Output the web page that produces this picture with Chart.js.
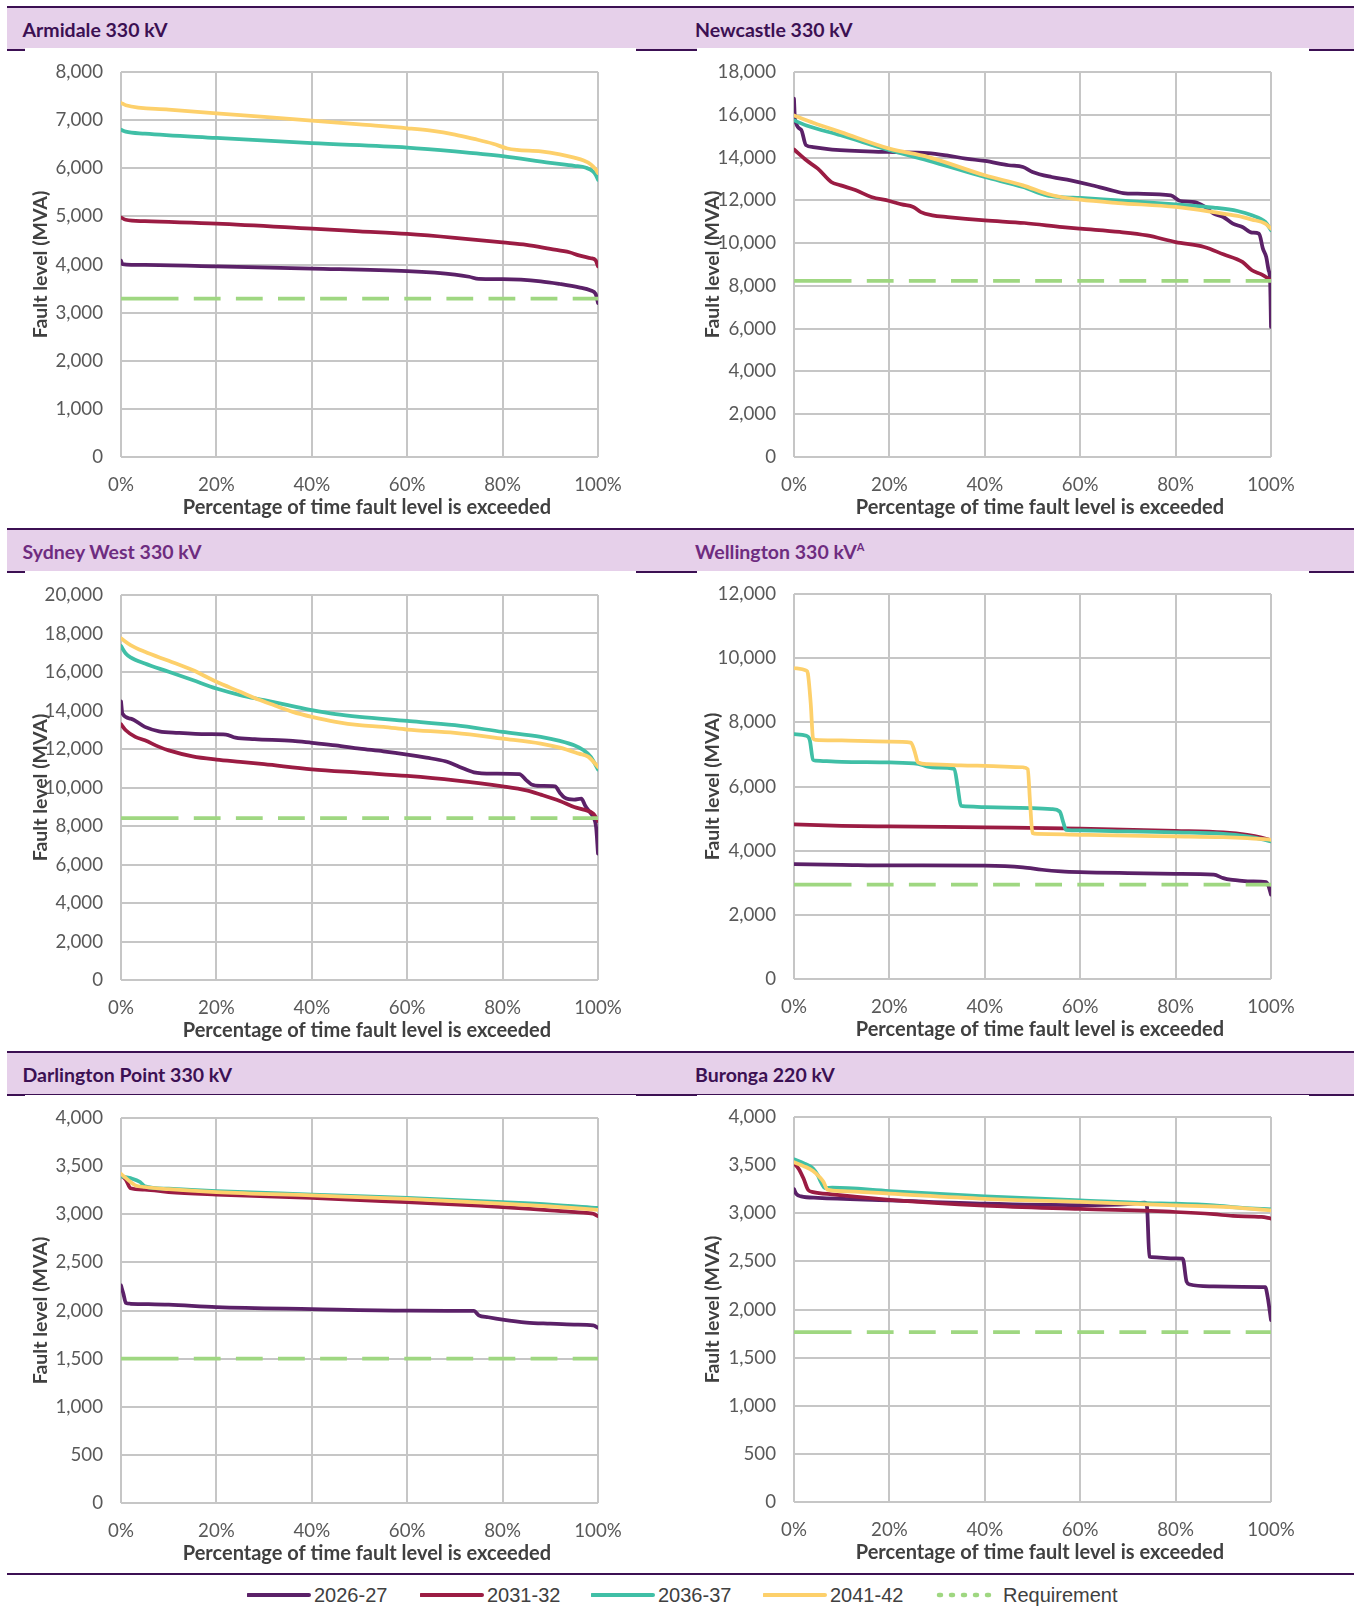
<!DOCTYPE html>
<html lang="en">
<head>
<meta charset="utf-8">
<title>Fault level duration curves</title>
<script src="https://cdn.jsdelivr.net/npm/chart.js@4.4.1/dist/chart.umd.min.js"></script>
<style>
  html, body { margin: 0; padding: 0; background: #fff; }
  body { position: relative; width: 1359px; height: 1608px; overflow: hidden; font-family: 'Lato', sans-serif; }
  .bar { position: absolute; left: 7px; width: 1347px; height: 41px; background: #e6d0ea;
         border-top: 2px solid #3c1053; border-bottom: 2px solid #3c1053; }
  .bar span { position: absolute; top: 1px; line-height: 41px; font-weight: 700; font-size: 19.5px;
              color: #3c1053; white-space: nowrap; }
  .bar.mid span { color: #6e2c80; }
  .bar sup { font-size: 11px; vertical-align: baseline; position: relative; top: -8px; }
  .panel { position: absolute; background: #fff; }
  .panel canvas { display: block; }
  .rule { position: absolute; left: 7px; width: 1347px; top: 1573px; height: 2px; background: #3c1053; z-index: 3; }
  .legend { position: absolute; top: 1582px; left: 0; width: 1359px; height: 26px;
            font-family: 'Liberation Sans', Arial, sans-serif; font-size: 20px; color: #404040; }
  .legend svg { position: absolute; top: 0; }
  .legend span { position: absolute; top: 0; line-height: 26px; white-space: nowrap; }
</style>
</head>
<body>

<div class="bar" style="top:6px"><span style="left:15.5px">Armidale 330 kV</span><span style="left:688px">Newcastle 330 kV</span></div>
<div class="bar mid" style="top:528px"><span style="left:15.5px">Sydney West 330 kV</span><span style="left:688px">Wellington 330 kV<sup>A</sup></span></div>
<div class="bar" style="top:1051px"><span style="left:15.5px">Darlington Point 330 kV</span><span style="left:688px">Buronga 220 kV</span></div>

<div class="panel" style="left:25px;top:48px"><canvas id="chart0"></canvas></div>
<div class="panel" style="left:697px;top:48px"><canvas id="chart1"></canvas></div>
<div class="panel" style="left:25px;top:571px"><canvas id="chart2"></canvas></div>
<div class="panel" style="left:697px;top:571px"><canvas id="chart3"></canvas></div>
<div class="panel" style="left:25px;top:1095px"><canvas id="chart4"></canvas></div>
<div class="panel" style="left:697px;top:1095px"><canvas id="chart5"></canvas></div>

<div class="rule"></div>
<div class="legend" id="legend"></div>

<script>
// ---- Series labels and per-station axis settings ----
const seriesNames = ['2026-27', '2031-32', '2036-37', '2041-42'];
const requirementName = 'Requirement';
const xTickValues = [0, 20, 40, 60, 80, 100];          // % of time exceeded
const yMax  = [8000, 18000, 20000, 12000, 4000, 4000];  // MVA
const yStep = [1000, 2000, 2000, 2000, 500, 500];
const requirement = [3290, 8230, 8410, 2940, 1500, 1765];

// ---- Fault level duration curves: [% of time exceeded, MVA] ----
// Armidale 330 kV
const armidale2026 = [[0,4080],[0.3,4010],[5,3990],[20,3960],[40,3915],[60,3860],[70,3790],[73,3745],[75,3700],[80,3695],[88,3650],[92,3595],[96,3525],[98.5,3460],[99.5,3390],[100,3200]];
const armidale2031 = [[0,4980],[1,4930],[5,4900],[20,4850],[40,4745],[50,4690],[60,4635],[70,4555],[80,4460],[85,4410],[90,4325],[94,4255],[96,4190],[98.5,4130],[99.5,4090],[100,3960]];
const armidale2036 = [[0,6800],[1,6760],[5,6720],[20,6630],[40,6520],[60,6430],[70,6350],[80,6250],[90,6110],[95,6050],[97.5,6010],[99,5930],[99.6,5850],[100,5760]];
const armidale2041 = [[0,7360],[1,7310],[10,7220],[20,7140],[30,7070],[40,6990],[50,6910],[60,6830],[65,6780],[70,6700],[74,6610],[78,6510],[81,6410],[83,6380],[88,6350],[92,6290],[95,6220],[97,6160],[98.5,6080],[99.5,5980],[100,5900]];

// Newcastle 330 kV
const newcastle2026 = [[0,16750],[0.2,15800],[1.5,15300],[2.5,14580],[4,14490],[8,14370],[20,14260],[28,14210],[32,14100],[36,13950],[40,13840],[45,13640],[48,13560],[50,13330],[54,13090],[58,12930],[62,12730],[66,12500],[69,12340],[72,12310],[79,12230],[81,11970],[84,11920],[86,11720],[88,11380],[90,11220],[92,10910],[94,10750],[96,10490],[97.5,10440],[98.3,9740],[99,9350],[99.5,8730],[99.8,8300],[100,6080]];
const newcastle2031 = [[0,14380],[2.6,13870],[5,13480],[7.8,12860],[9.8,12700],[13,12470],[16.2,12160],[20,11970],[22.6,11810],[25,11690],[26.6,11450],[29,11300],[32.2,11220],[40,11065],[48.3,10940],[56.3,10750],[60,10675],[68.3,10520],[74,10360],[80,10050],[86,9820],[90,9475],[94,9120],[96,8730],[98,8540],[100,8260]];
const newcastle2036 = [[0,15740],[2.6,15500],[9.8,15040],[20,14340],[28,13870],[40,13090],[48,12620],[53,12230],[56,12155],[60,12110],[68,12000],[80,11810],[88,11660],[93,11500],[96,11300],[98.8,10990],[100,10600]];
const newcastle2041 = [[0,15970],[2.6,15740],[5,15550],[9.8,15190],[20,14415],[28,14030],[40,13170],[48,12700],[53,12310],[56,12155],[60,12030],[68,11875],[80,11690],[88,11450],[93,11270],[96,11100],[98.8,10910],[100,10675]];

// Sydney West 330 kV
const sydneyWest2026 = [[0,14480],[0.3,13840],[2,13580],[5,13150],[8,12920],[12,12840],[18,12770],[22,12750],[24,12590],[28,12510],[36,12420],[40,12320],[45,12190],[50,12020],[55,11880],[60,11710],[64,11550],[68,11360],[71,11070],[74,10790],[78,10720],[83.5,10690],[85,10370],[86,10165],[88,10080],[91,10060],[92,9730],[93,9470],[95,9370],[96.5,9420],[97.3,9070],[98,8810],[99,8465],[99.6,7940],[100,6560]];
const sydneyWest2031 = [[0,13290],[1,12975],[3,12630],[5,12450],[8,12110],[10,11930],[15,11620],[20,11450],[25,11330],[30,11210],[40,10945],[50,10770],[60,10600],[70,10370],[80,10060],[85,9850],[88,9630],[92,9300],[95,8985],[97,8850],[99,8640],[100,8260]];
const sydneyWest2036 = [[0,17350],[1,16960],[2,16760],[5,16440],[10,16010],[15,15580],[20,15140],[25,14800],[30,14540],[35,14280],[40,14020],[45,13810],[50,13670],[60,13460],[70,13235],[80,12890],[88,12630],[92,12420],[95,12190],[97,11930],[98.5,11590],[100,10930]];
const sydneyWest2041 = [[0,17750],[2,17400],[5,17050],[10,16580],[15,16100],[20,15490],[25,14970],[28,14650],[32,14280],[36,13930],[40,13670],[45,13410],[50,13235],[55,13150],[60,13010],[70,12840],[80,12540],[88,12280],[92,12070],[96,11760],[98,11590],[100,11070]];

// Wellington 330 kV
const wellington2026 = [[0,3580],[10,3560],[20,3540],[40,3530],[48,3480],[52,3405],[56,3355],[60,3330],[70,3300],[80,3280],[88,3250],[90,3145],[91.5,3095],[93,3075],[96,3040],[99,3020],[99.5,2890],[100,2630]];
const wellington2031 = [[0,4820],[10,4775],[20,4755],[40,4725],[60,4690],[80,4620],[90,4570],[95,4495],[98,4410],[100,4320]];
const wellington2036 = [[0,7630],[2.6,7580],[3.3,7450],[4,6830],[4.5,6810],[10,6770],[20,6750],[26,6705],[28,6620],[30,6590],[33.6,6550],[34.3,6000],[35,5400],[36,5380],[40,5360],[50,5325],[54,5295],[55.7,5220],[56.5,4860],[57,4650],[60,4630],[70,4600],[80,4570],[90,4525],[95,4445],[98,4360],[100,4290]];
const wellington2041 = [[0,9690],[2.6,9610],[2.9,9530],[3.5,8600],[4,7500],[4.5,7455],[10,7435],[20,7400],[24.5,7370],[25.3,7090],[26,6750],[28,6695],[35,6655],[40,6645],[48,6600],[49,6540],[49.5,5480],[50,4550],[51,4525],[60,4495],[70,4465],[80,4445],[90,4420],[95,4390],[100,4340]];

// Darlington Point 330 kV
const darlington2026 = [[0,2260],[0.5,2175],[1,2080],[2,2070],[10,2060],[20,2035],[40,2015],[60,2000],[74,1995],[75,1950],[77,1930],[80,1905],[85,1875],[90,1863],[95,1853],[99,1845],[100,1820]];
const darlington2031 = [[0,3405],[1,3360],[2,3270],[5,3255],[10,3230],[20,3205],[40,3170],[60,3125],[75,3090],[80,3075],[90,3040],[96,3020],[99,3005],[100,2980]];
const darlington2036 = [[0,3395],[2,3375],[4,3335],[5,3290],[10,3265],[20,3240],[40,3205],[60,3170],[80,3125],[90,3100],[100,3065]];
const darlington2041 = [[0,3420],[2,3335],[3,3300],[5,3283],[10,3260],[20,3230],[40,3195],[60,3160],[80,3110],[90,3082],[100,3045]];

// Buronga 220 kV
const buronga2026 = [[0,3250],[0.5,3200],[1.5,3175],[5,3160],[20,3135],[40,3100],[60,3085],[70,3095],[73.5,3110],[74,3070],[74.5,2550],[75,2545],[80,2530],[81.5,2528],[82.3,2290],[83,2260],[88,2240],[94,2235],[98.8,2232],[99.3,2130],[100,1890]];
const buronga2031 = [[0,3520],[1,3460],[2,3360],[3,3240],[4,3220],[8,3195],[20,3140],[40,3080],[60,3045],[80,3013],[88,2990],[92,2972],[98,2962],[100,2945]];
const buronga2036 = [[0,3560],[2,3520],[4,3465],[5,3395],[5.5,3340],[6.5,3262],[8,3265],[20,3230],[40,3175],[60,3135],[74,3106],[80,3100],[88,3082],[94,3055],[100,3040]];
const buronga2041 = [[0,3530],[2,3490],[4,3440],[5.5,3370],[6.2,3325],[7,3245],[10,3230],[20,3203],[40,3150],[60,3117],[80,3082],[90,3065],[100,3030]];

const stationSeries = [
  [armidale2026, armidale2031, armidale2036, armidale2041],
  [newcastle2026, newcastle2031, newcastle2036, newcastle2041],
  [sydneyWest2026, sydneyWest2031, sydneyWest2036, sydneyWest2041],
  [wellington2026, wellington2031, wellington2036, wellington2041],
  [darlington2026, darlington2031, darlington2036, darlington2041],
  [buronga2026, buronga2031, buronga2036, buronga2041]
];

// ---- Styling ----
const seriesColors = ['#5b2168', '#9b1c43', '#40bfa6', '#fdd06b'];
const requirementColor = '#9fd781';
const gridColor = '#c6c6c6';
const tickColor = '#595959';
const titleColor = '#404040';
const tickFont = { family: 'Lato', size: 18.7 };
const yTitleFont = { family: 'Lato', size: 19.5, weight: 'bold' };
const xTitleFont = { family: 'Lato', size: 20, weight: 'bold' };
// the leading en space nudges the centred title slightly to the right
const xTitle = '\u2002 Percentage of time fault level is exceeded';
const yTitle = 'Fault level (MVA)';
// long leading dash, then regular dashes
const requirementDash = [57.5, 15.3].concat(...Array(14).fill([26.8, 15.3]));

// canvas size and plot-area placement inside each panel
const PLOT_H = 385;
const panelLayout = [
  { w: 611, h: 480, plotL: 96, plotR: 573, plotT: 24 },
  { w: 612, h: 480, plotL: 97, plotR: 574, plotT: 24 },
  { w: 611, h: 480, plotL: 96, plotR: 573, plotT: 24 },
  { w: 612, h: 480, plotL: 97, plotR: 574, plotT: 23 },
  { w: 611, h: 478, plotL: 96, plotR: 573, plotT: 23 },
  { w: 612, h: 478, plotL: 97, plotR: 574, plotT: 22 }
];

function clearScalePadding(scale) {
  scale.paddingLeft = 0;
  scale.paddingRight = 0;
  scale.paddingTop = 0;
  scale.paddingBottom = 0;
}

function buildChart(i) {
  const p = panelLayout[i];
  const canvas = document.getElementById('chart' + i);
  canvas.width = p.w;
  canvas.height = p.h;
  canvas.style.width = p.w + 'px';
  canvas.style.height = p.h + 'px';
  const plotB = p.plotT + PLOT_H;
  const xTitleLine = xTitleFont.size * 1.2;
  const xTitlePad = Math.max(0, p.h - plotB - 51 - xTitleLine / 2);

  const datasets = seriesNames.map((name, k) => ({
    label: name,
    data: stationSeries[i][k].map(([x, y]) => ({ x, y })),
    borderColor: seriesColors[k],
    backgroundColor: seriesColors[k],
    borderWidth: 3.75,
    borderJoinStyle: 'round',
    borderCapStyle: 'round',
    pointRadius: 0,
    fill: false,
    cubicInterpolationMode: 'monotone',
    order: 4 - k
  }));
  datasets.push({
    label: requirementName,
    data: [{ x: 0, y: requirement[i] }, { x: 100, y: requirement[i] }],
    borderColor: requirementColor,
    borderWidth: 3.75,
    borderDash: requirementDash,
    pointRadius: 0,
    fill: false,
    order: 0
  });

  return new Chart(canvas, {
    type: 'line',
    data: { datasets },
    options: {
      responsive: false,
      maintainAspectRatio: false,
      animation: false,
      devicePixelRatio: 1,
      events: [],
      layout: { autoPadding: false, padding: { left: 0, top: p.plotT, right: p.w - p.plotR, bottom: 0 } },
      plugins: { legend: { display: false }, tooltip: { enabled: false } },
      scales: {
        x: {
          type: 'linear', min: 0, max: 100,
          afterBuildTicks(scale) { scale.ticks = xTickValues.map(v => ({ value: v })); },
          ticks: { autoSkip: false, maxRotation: 0, padding: 16.5, color: tickColor, font: tickFont,
                   callback: v => v + '%' },
          grid: { color: gridColor, lineWidth: 2, drawTicks: false },
          border: { display: false },
          title: { display: true, text: xTitle, color: titleColor, font: xTitleFont,
                   padding: { top: 0, bottom: xTitlePad } },
          afterFit(scale) { scale.height = p.h - plotB; clearScalePadding(scale); }
        },
        y: {
          type: 'linear', min: 0, max: yMax[i],
          ticks: { stepSize: yStep[i], padding: 18, color: tickColor, font: tickFont,
                   callback: v => Number(v).toLocaleString('en-US') },
          grid: { color: gridColor, lineWidth: 2, drawTicks: false },
          border: { display: false },
          title: { display: true, text: yTitle, color: titleColor, font: yTitleFont,
                   padding: { top: 4.5, bottom: 0 } },
          afterFit(scale) { scale.width = p.plotL; clearScalePadding(scale); }
        }
      }
    }
  });
}

// ---- Shared legend ----
function buildLegend() {
  const legend = document.getElementById('legend');
  const starts = [247, 420, 591, 763, 936];
  const names = seriesNames.concat([requirementName]);
  const colors = seriesColors.concat([requirementColor]);
  names.forEach((name, k) => {
    const svgNS = 'http://www.w3.org/2000/svg';
    const svg = document.createElementNS(svgNS, 'svg');
    svg.setAttribute('width', '64');
    svg.setAttribute('height', '26');
    svg.style.left = starts[k] + 'px';
    const line = document.createElementNS(svgNS, 'line');
    line.setAttribute('x1', k === 4 ? '3' : '1');
    line.setAttribute('x2', '62');
    line.setAttribute('y1', '13');
    line.setAttribute('y2', '13');
    line.setAttribute('stroke', colors[k]);
    line.setAttribute('stroke-linecap', 'round');
    if (k === 4) {
      line.setAttribute('stroke-dasharray', '2 10');
      line.setAttribute('stroke-width', '4.5');
    } else {
      line.setAttribute('stroke-width', '4');
    }
    svg.appendChild(line);
    legend.appendChild(svg);
    const label = document.createElement('span');
    label.textContent = name;
    label.style.left = (starts[k] + 67) + 'px';
    legend.appendChild(label);
  });
}

buildLegend();
const charts = [0, 1, 2, 3, 4, 5].map(buildChart);
if (document.fonts && document.fonts.ready) {
  document.fonts.ready.then(() => charts.forEach(c => c.update()));
}
</script>
</body>
</html>
